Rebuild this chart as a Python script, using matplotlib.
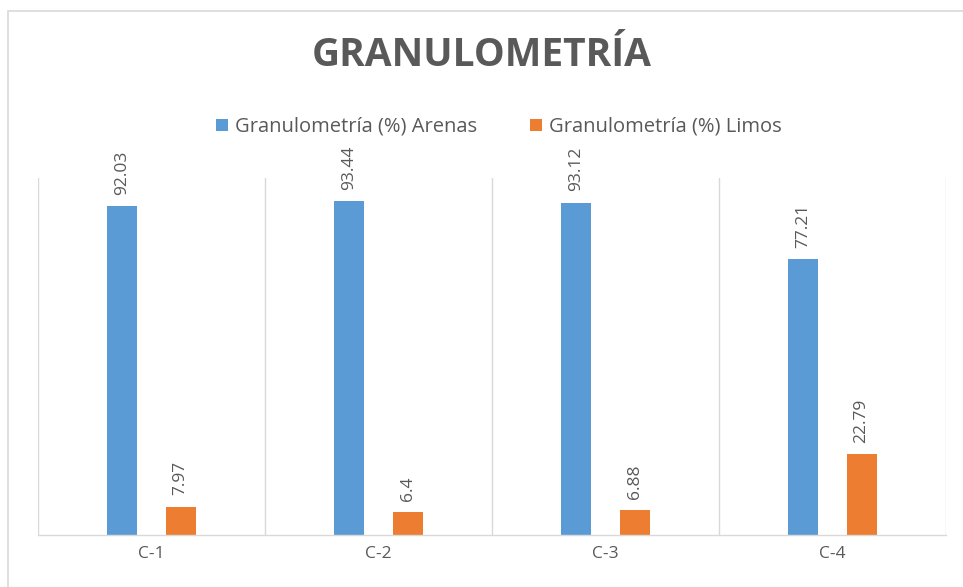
import matplotlib.pyplot as plt
import numpy as np
from matplotlib.patches import Rectangle

# Datos de granulometría por calicata
categories = ['C-1', 'C-2', 'C-3', 'C-4']
arenas = [92.03, 93.44, 93.12, 77.21]
limos = [7.97, 6.4, 6.88, 22.79]
arenas_labels = ['92.03', '93.44', '93.12', '77.21']
limos_labels = ['7.97', '6.4', '6.88', '22.79']

BLUE = '#5B9BD5'
ORANGE = '#ED7D31'
GRAY = '#595959'
GRID = '#D9D9D9'

plt.rcParams['font.family'] = ['Open Sans', 'DejaVu Sans']

fig = plt.figure(figsize=(9.63, 5.87), dpi=100)
W, H = 963, 587

# chart frame (top and left edges visible)
fig.patches.append(Rectangle((8 / W, -0.1), 1.2, (H - 11) / H + 0.1,
                             transform=fig.transFigure, fill=False,
                             edgecolor='#D9D9D9', linewidth=1.2))

ax = fig.add_axes([38 / W, (H - 535) / H, (946 - 38) / W, (535 - 178) / H])

x = np.arange(len(categories))
width = 0.132
offset = 0.128
b1 = ax.bar(x - offset, arenas, width, color=BLUE, label='Granulometría (%) Arenas')
b2 = ax.bar(x + offset, limos, width, color=ORANGE, label='Granulometría (%) Limos')

for bars, labels in ((b1, arenas_labels), (b2, limos_labels)):
    for bar, lab in zip(bars, labels):
        ax.annotate(lab, (bar.get_x() + bar.get_width() / 2, bar.get_height()),
                    xytext=(0, 8), textcoords='offset points',
                    rotation=90, ha='center', va='bottom',
                    fontsize=12.5, color=GRAY)

ax.set_xlim(-0.5, len(categories) - 0.5)
ax.set_ylim(0, 100)
ax.set_xticks(x)
ax.set_xticklabels(categories, fontsize=12.5, color=GRAY)
ax.tick_params(axis='x', length=0, pad=8)
ax.set_yticks([])

# category separators
for b in np.arange(-0.5, len(categories), 1.0):
    ax.axvline(b, color=GRID, linewidth=1, zorder=0)

for s in ('top', 'left', 'right'):
    ax.spines[s].set_visible(False)
ax.spines['bottom'].set_color(GRID)
ax.spines['bottom'].set_linewidth(1)

fig.text(0.5, (H - 56) / H, 'GRANULOMETRÍA', ha='center', va='center',
         fontsize=28, fontweight='bold', color=GRAY)

fig.legend(handles=[b1, b2], loc='center', bbox_to_anchor=(0.518, (H - 127) / H),
           ncol=2, frameon=False, fontsize=14.5, labelcolor=GRAY,
           handlelength=0.6, handleheight=0.6, handletextpad=0.35,
           columnspacing=2.6)

fig.savefig('out.png', dpi=100)
